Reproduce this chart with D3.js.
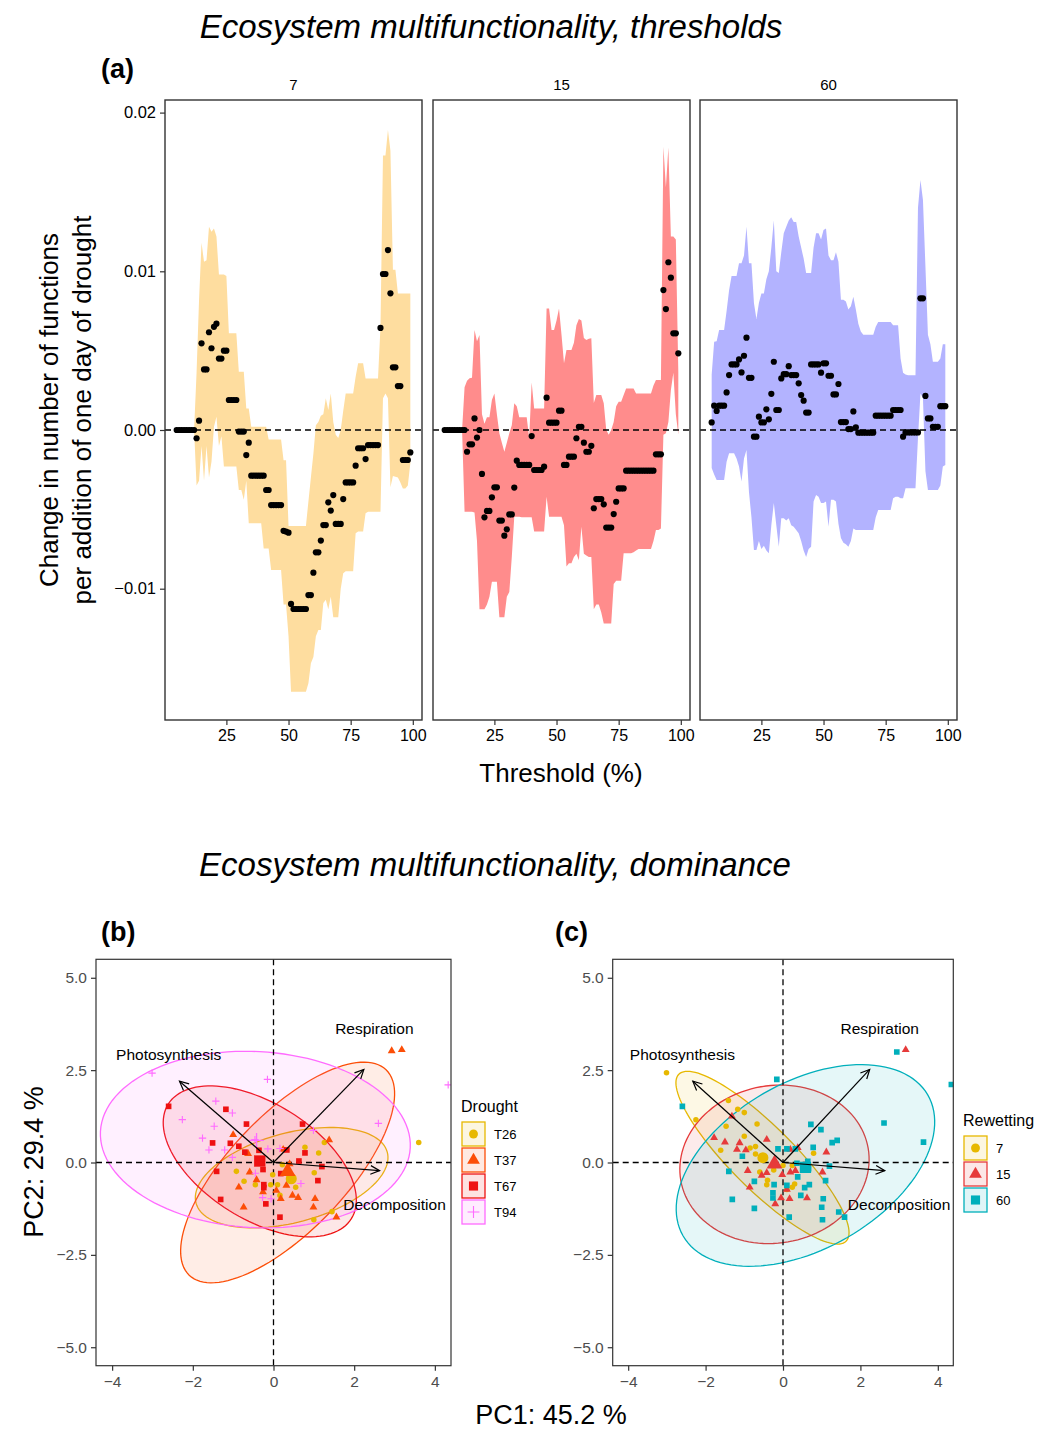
<!DOCTYPE html>
<html>
<head>
<meta charset="utf-8">
<style>
  body { margin: 0; background: #fff; }
  text { font-family: "Liberation Sans", Arial, Helvetica, sans-serif; }
</style>
</head>
<body>
<svg width="1038" height="1431"></svg>
<script src="https://d3js.org/d3.v7.min.js"></script>
<script>

  // ---------- (a) thresholds : values are slope x 1e-3 ----------
  var thresholds = d3.range(5, 100);
  var facetLabels = ["7", "15", "60"];

  var est7 = [0,0,0,0,0,0,0,0, -0.52,0.59,5.46,3.82,3.82,6.16,5.15,6.5,6.7,4.5,4.5,5.0,5.0,1.89,1.89,1.89,1.89,-0.1,-0.1,-0.1,-1.58,-0.8,
    -2.88,-2.88,-2.88,-2.88,-2.88,-2.88, -3.78,-3.78, -4.73,-4.73,-4.73,-4.73,-4.73, -6.35,-6.4,-6.47, -10.96,
    -11.28,-11.28,-11.28,-11.28,-11.28,-11.28, -10.4,-10.4, -8.99, -7.71,-7.71, -6.97, -5.99,-5.99, -4.56, -5.08, -4.1,
    -5.92,-5.92,-5.92, -4.35, -3.3,-3.3,-3.3,-3.3, -2.25, -1.15,-1.15,-1.15, -1.83, -0.95,-0.95,-0.95,-0.95,-0.95,
    6.43, 9.83,9.83, 11.34, 8.61, 3.95,3.95, 2.77,2.77, -1.89,-1.89,-1.89, -1.41];
  var hi7 = [0,0,0,0,0,0,0,0, 3.6,8.2,11.8,10.6,10.7,12.8,12.5,12.7,12.2,9.8,9.8,9.8,9.7,6.1,6.1,6.1,6.1,3.67,3.67,3.67,1.36,1.36,
    0.2,0.2,0.2,0.2,0.2,0.2,0.2, -0.6,-0.6,-0.6,-0.6,-0.6,-0.6, -1.9,-1.9, -6.05,-6.05,-6.05,-6.05,-6.05,-6.05,-6.05,-6.05,
    -4.5,-3.0,-1.5,0.3,0.5,0.9,1.0,2.0,1.26,2.3,0.5,-0.3,-0.5,0.0,1.2,2.3,2.3,2.3,2.3,3.36,4.2,4.2,4.2,
    3.25,3.25,3.25,3.25,3.25,3.25,6.5,17.3,17.3,18.9,17.6,10.1,10.1,8.6,8.6,8.6,8.6,8.6,8.6];
  var lo7 = [0,0,0,0,0,0,0,0, -3.5,-3.2,-1.0,-3.2,-1.0,-3.0,-2.0,0.2,0.84,-1.0,-0.4,-2.3,-2.3,-2.3,-2.3,-2.3,-2.3,-3.78,-3.78,-4.4,-3.2,-5.88,
    -5.88,-5.88,-5.88,-5.88,-5.88, -7.46,-7.46,-7.46, -8.82,-8.82,-8.82,-8.82,-8.82, -11.0,-11.0,-13.0,
    -16.5,-16.5,-16.5,-16.5,-16.5,-16.5,-16.5,
    -15.96,-14.7,-14.3,-13.0,-12.6,-12.6,-10.9,-10.7,-11.3,-10.5,-11.8,-11.8,-11.8,-10.0,-9.03,-8.9,-8.9,-8.9,-8.9,
    -6.5,-6.4,-6.4,-6.4,-5.25,-5.15,-5.15,-5.15,-5.15,-5.15,-5.15,2.0,2.3,2.0,-3.6,-2.9,-2.95,-3.0,-3.3,-3.68,-3.68,-3.5,-2.1];

  var est15 = [0,0,0,0,0,0,0,0,0, -1.37,-0.9,-0.9,0.73,-0.48,0,-2.77,-5.5,-5.1,-5.1,-4.24,-3.61,-3.61,-5.71,-5.71,-6.66,-6.26,-5.32,-5.32,-3.63,-1.93,
    -2.2,-2.2,-2.2,-2.2,-2.2, -0.38, -2.52,-2.52,-2.52,-2.52, -2.31, 2.04, 0.46,0.46,0.46,0.46, 1.22,1.22, -2.2,-2.2,
    -1.68,-1.68,-1.68, -0.52, 0.2,0.2, -0.8,-1.37,-1.37,-1.0, -4.93,-4.35,-4.35,-4.35,-4.68,-6.15,-6.15,-6.15,-5.3,-4.52,-3.68,-3.68,-3.68,
    -2.56,-2.56,-2.56,-2.56,-2.56,-2.56,-2.56,-2.56,-2.56,-2.56,-2.56,-2.56, -1.53,-1.53,-1.53,
    8.82,7.62,10.57,9.6,6.09,6.09,4.83];
  var hi15 = [0,0,0,0,0,0,0,0, 2.7,3.1,3.26,3.3,6.3,5.6,5.98,1.0,0.4,0.8,0.8,1.89,2.3,1.0,-0.2,-0.8,-1.37,-0.8,-0.2,0.3,1.68,1.5,
    0.8,0.8,0.8,0.8,-0.5,3.0,1.36,1.36,1.36,1.36,1.36,7.66,7.66,6.3,6.3,6.9,7.66,6.0,4.2,5.04,5.04,5.04,5.5,6.6,7.0,6.9,
    5.8,5.67,5.75,5.78,1.7,2.2,2.2,2.2,1.68,0.0,-0.3,0.0,0.5,1.5,1.78,1.78,2.2,2.62,2.62,2.62,2.62,
    2.3,2.3,2.3,2.3,2.3,2.3,2.3,2.8,3.15,3.15,3.15,17.85,15.3,17.8,12.2,12.2,12.0,3.67];
  var lo15 = [0,0,0,0,0,0,0,0, -5.15,-5.15,-5.15,-5.15,-5.2,-7.0,-11.3,-11.3,-11.3,-11.0,-10.5,-9.56,-9.56,-9.56,-11.8,-11.8,-11.8,-10.5,-10.2,-8.0,-5.46,-5.46,
    -5.46,-5.5,-5.5,-5.5,-5.5,-5.5,-6.4,-6.4,-6.4,-6.4,-6.4,-4.2,-5.46,-5.46,-5.46,-5.46,-5.46,-5.46,-6.0,-8.6,-8.4,-8.4,-8.0,-7.8,-8.2,-6.1,
    -7.8,-7.9,-8.0,-8.0,-11.3,-11.0,-11.0,-11.5,-12.2,-12.2,-12.2,-12.2,-9.7,-9.5,-9.5,-9.5,-7.77,-7.77,-7.77,-7.77,-7.7,
    -7.6,-7.5,-7.5,-7.5,-7.5,-7.5,-7.5,-7.0,-6.3,-6.3,-6.2,-0.3,-0.2,0.5,2.5,3.6,1.0,-0.3];

  var est60 = [0.48,1.53,1.2,1.53,1.53,1.53,2.37,3.46,4.13,4.13,4.13,4.45,3.63,4.68,5.82,3.29,3.29,-0.42,-0.42,0.84,0.48,0.48,1.3,0.67,2.28,4.3,
    1.26,1.26,3.25,3.52,3.52,4.02,3.46,3.46,3.46,2.94,2.2,1.85,1.1,1.1,4.13,4.13,4.13,4.13,3.61,4.2,4.2,3.42,3.42,2.24,2.24,2.9,
    0.5,0.5,0.5,0.06,0.06,1.17,0.17, -0.17,-0.17,-0.17,-0.17,-0.17,-0.17,-0.17, 0.9,0.9,0.9,0.9,0.9,0.9,0.9, 1.26,1.26,1.26,1.26,
    -0.42, -0.15,-0.15,-0.15,-0.15,-0.15,-0.15, 8.3,8.3,2.15,0.73,0.73,0.2,0.2,0.2,1.5,1.5,1.5];
  var hi60 = [3.5,5.56,5.6,6.3,6.3,6.3,7.5,8.8,9.7,9.7,9.7,10.5,10.5,11.0,12.8,10.5,10.5,8.0,7.0,8.0,8.6,8.6,9.5,10.0,11.5,13.2,
    10.0,9.9,11.2,12.4,12.8,13.2,13.4,13.1,13.1,12.2,11.5,10.8,9.9,9.9,9.9,11.5,12.4,12.4,12.0,12.6,12.7,11.0,10.7,10.7,11.2,10.6,
    8.2,8.2,8.1,7.6,7.8,8.4,7.6,6.7,6.2,6.0,6.0,6.0,6.0,6.0,6.5,6.8,6.8,6.8,6.8,6.8,6.8,6.6,6.6,6.6,4.5,3.6,3.5,3.45,3.45,3.45,3.45,
    14.0,15.75,14.5,10.3,6.0,5.4,4.3,4.3,4.3,4.5,5.4,5.4];
  var lo60 = [-2.4,-2.8,-3.15,-3.15,-3.15,-3.15,-2.0,-1.47,-1.47,-1.47,-1.8,-2.3,-3.25,-1.8,-1.26,-3.9,-5.5,-7.56,-7.56,-7.0,-7.5,-7.3,-7.6,-7.77,-6.0,-4.6,
    -6.0,-7.35,-5.56,-5.56,-5.7,-5.56,-6.0,-6.1,-6.3,-6.5,-7.0,-7.6,-8.0,-7.5,-7.35,-4.5,-4.1,-4.2,-4.6,-4.6,-4.5,-6.1,-4.4,-4.4,-4.5,-5.9,
    -6.8,-7.1,-7.2,-7.35,-7.0,-6.2,-6.3,-6.3,-6.3,-6.3,-6.3,-6.3,-6.3,-6.3,-5.5,-5.04,-5.04,-5.04,-5.04,-5.04,-5.04,-4.3,-4.2,-4.2,-4.3,-4.3,
    -3.67,-3.67,-3.67,-3.67,-3.67,-0.5,2.3,2.0,-2.6,-3.78,-3.78,-3.78,-3.78,-3.78,-3.5,-2.3,-2.2];

  // ---------- (b) / (c) PCA scores ----------
  var droughtLevels = ["T26", "T37", "T67", "T94"];
  var rewetLevels = ["7", "15", "60"];

  var ptsT26 = [[0.78,0.41],[1.12,0.26],[1.26,0.54],[-0.92,-0.24],[-0.73,-0.51],[-0.45,-0.6],[-0.02,-0.33],[-0.07,-0.6],[0.22,-0.06],
    [0.55,-0.67],[1.01,-0.28],[1.45,-1.33],[1.0,-1.55],[3.6,0.54],[0.16,-0.89],[0.1,-0.6]];
  var ptsT37 = [[-1.0,0.75],[-0.63,0.24],[-0.86,-0.67],[-0.74,-1.21],[-0.59,-0.26],[-0.42,-0.47],[-0.26,-0.8],[0.24,0.35],[0.4,-0.04],
    [0.07,-0.76],[0.18,-0.98],[0.32,-0.62],[0.47,-0.89],[0.61,-0.95],[1.03,-0.98],[0.99,-1.21],[1.38,0.61],[1.56,-1.48],[2.93,3.02],[3.18,3.05]];
  var ptsT67 = [[-2.6,1.52],[-1.18,1.44],[-0.67,1.04],[0.72,1.04],[-1.51,0.53],[-1.07,0.52],[-0.86,0.44],[-0.71,0.28],[-0.36,0.33],
    [-1.41,-0.24],[-0.26,-0.19],[-0.24,-0.6],[-0.24,-0.68],[-0.19,-1.12],[-1.31,-1.0],[0.16,-1.48],[0.63,0.04],[0.78,0.26],[1.2,-0.11],
    [1.1,-0.49],[0.18,-0.3],[0.33,0.34]];
  var ptsT94 = [[-3.01,2.42],[-0.15,2.25],[-1.43,1.66],[-1.02,1.34],[-2.26,1.16],[-1.47,0.98],[-1.76,0.66],[-1.6,0.34],[-1.21,0.34],
    [-1.02,0.14],[-0.46,0.62],[-0.45,-0.29],[-0.14,0.37],[0.16,0.38],[0.99,0.87],[2.6,1.06],[4.33,2.1],[0.68,-0.57],[-0.27,-0.95],[-0.06,-0.98]];

  var pts7 = [[-3.01,2.43],[-2.25,1.16],[-1.41,1.68],[-1.17,1.44],[-1.0,1.35],[-1.47,0.98],[-0.67,1.04],[-1.0,0.71],[-1.61,0.33],
    [-0.85,0.39],[-0.71,0.43],[-0.71,0.23],[-0.24,-0.2],[-0.6,-0.26],[-0.4,-0.48],[-0.42,-0.6],[0.0,-0.08],[0.24,-0.08],[0.79,0.25],
    [0.24,-0.67],[0.3,-0.58],[0.1,-0.73]];
  var pts15 = [[-1.78,0.67],[-1.5,0.55],[-1.12,0.53],[-1.19,0.35],[-0.96,0.34],[-0.42,0.62],[-1.32,1.25],[-0.91,-0.22],[-0.55,-0.35],
    [-0.42,-0.28],[-0.86,-0.67],[-0.02,-0.33],[0.19,-0.26],[0.32,-0.22],[0.38,0.4],[0.19,0.35],[1.12,0.28],[1.02,-0.26],[-0.2,-1.12],
    [-0.05,-0.96],[0.17,-0.98],[0.62,-0.96],[0.1,-0.73],[3.17,3.05]];
  var pts60 = [[-2.6,1.52],[-0.16,2.25],[-1.05,0.17],[-1.4,-0.24],[-1.31,-1.0],[-0.74,-0.51],[-0.74,-1.24],[-0.23,-0.6],[-0.26,-0.82],
    [-0.26,-0.96],[-0.13,0.37],[0.1,0.37],[0.32,0.37],[0.1,-0.62],[0.16,-1.48],[0.46,-0.89],[0.38,-0.39],[0.56,-0.68],[0.68,-0.6],
    [0.53,-0.14],[0.64,0.03],[0.66,-0.17],[0.78,0.41],[0.72,1.03],[0.98,0.89],[1.27,0.54],[1.4,0.6],[1.2,-0.1],[1.1,-0.49],[1.04,-0.98],
    [1.0,-1.21],[1.02,-1.55],[1.44,-1.34],[1.59,-1.48],[2.61,1.07],[3.63,0.55],[2.94,2.99],[4.35,2.11],[0.36,-0.02]];

  // group means (big symbols)
  var meansDrought = [[0.44,-0.44],[0.35,-0.24],[-0.34,0.04],[-0.42,0.6]];
  var meansRewet = [[-0.52,0.13],[-0.22,-0.04],[0.58,-0.13]];

  // concentration ellipses: centre c, conjugate semi-axes u and v (PC units)
  var ellDrought = [
    {c:[0.45,-0.41], u:[2.37,0.69], v:[0.29,-1.17]},
    {c:[0.35,-0.27], u:[2.44,2.78], v:[1.04,-1.09]},
    {c:[-0.34,0.03], u:[2.27,-1.55], v:[0.76,1.33]},
    {c:[-0.45,0.62], u:[3.84,-0.22], v:[-0.11,-2.38]}
  ];
  var ellRewet = [
    {c:[-0.53,0.13], u:[2.16,-2.26], v:[0.58,0.6]},
    {c:[-0.22,-0.05], u:[2.42,0.44], v:[0.35,-2.1]},
    {c:[0.58,-0.08], u:[3.16,1.91], v:[1.08,-1.95]}
  ];

  // variable loadings and label positions
  var loadNames = ["Photosynthesis", "Respiration", "Decomposition"];
  var loadXY = [[-2.33,2.2],[2.24,2.52],[2.63,-0.22]];
  var loadLabelXY = [[-2.6,2.92],[2.5,3.62],[3.0,-1.15]];

  // ---------- drawing ----------
  var svg = d3.select("svg");
  var font = "'Liberation Sans', Arial, Helvetica, sans-serif";

  // titles
  svg.append("text").attr("x", 491).attr("y", 38).attr("text-anchor", "middle")
      .style("font-style", "italic").style("font-size", "33px").text("Ecosystem multifunctionality, thresholds");
  svg.append("text").attr("x", 101).attr("y", 78).style("font-weight", "bold").style("font-size", "27px").text("(a)");

  var yA = d3.scaleLinear().domain([-0.018273, 0.020794]).range([720, 100]);
  var facetLeft = [165, 433, 700], facetW = 257;
  var ribbonFill = ["#FEDD9F", "#FF8C8C", "#B3B3FF"];
  var facetData = [
    {est: est7, lo: lo7, hi: hi7},
    {est: est15, lo: lo15, hi: hi15},
    {est: est60, lo: lo60, hi: hi60}
  ];

  facetData.forEach(function(f, i) {
    var x = d3.scaleLinear().domain([0.3, 103.7]).range([facetLeft[i], facetLeft[i] + facetW]);
    var rows = thresholds.map(function(t, j) {
      return {t: t, est: f.est[j] * 1e-3, lo: f.lo[j] * 1e-3, hi: f.hi[j] * 1e-3};
    });
    var g = svg.append("g");

    g.append("path").datum(rows)
        .attr("fill", ribbonFill[i])
        .attr("d", d3.area().x(function(d) { return x(d.t); })
          .y0(function(d) { return yA(d.lo); }).y1(function(d) { return yA(d.hi); }));

    g.append("line")
        .attr("x1", facetLeft[i]).attr("x2", facetLeft[i] + facetW)
        .attr("y1", yA(0)).attr("y2", yA(0))
        .attr("stroke", "#000").attr("stroke-width", 1.3).attr("stroke-dasharray", "6,4");

    g.selectAll("circle").data(rows).join("circle")
        .attr("cx", function(d) { return x(d.t); })
        .attr("cy", function(d) { return yA(d.est); })
        .attr("r", 3.1).attr("fill", "#000");

    g.append("rect").attr("x", facetLeft[i]).attr("y", 100).attr("width", facetW).attr("height", 620)
        .attr("fill", "none").attr("stroke", "#333").attr("stroke-width", 1.4);

    var ax = g.append("g").attr("transform", "translate(0,720)")
        .call(d3.axisBottom(x).tickValues([25, 50, 75, 100]).tickSize(5).tickPadding(5));
    ax.select(".domain").remove();
    ax.selectAll("line").attr("stroke", "#333").attr("stroke-width", 1.2);
    ax.selectAll("text").attr("fill", "#000").style("font-size", "16px").style("font-family", font);

    g.append("text").attr("x", facetLeft[i] + facetW / 2).attr("y", 90).attr("text-anchor", "middle")
        .style("font-size", "15px").text(facetLabels[i]);
  });

  var ay = svg.append("g").attr("transform", "translate(165,0)")
      .call(d3.axisLeft(yA).tickValues([-0.01, 0, 0.01, 0.02]).tickFormat(d3.format(".2f")).tickSize(5).tickPadding(4));
  ay.select(".domain").remove();
  ay.selectAll("line").attr("stroke", "#333").attr("stroke-width", 1.2);
  ay.selectAll("text").attr("fill", "#000").style("font-size", "16.5px").style("font-family", font);

  svg.append("text").attr("x", 561).attr("y", 782).attr("text-anchor", "middle")
      .style("font-size", "26px").text("Threshold (%)");
  var yt = svg.append("text").attr("transform", "translate(58,410) rotate(-90)").attr("text-anchor", "middle")
      .style("font-size", "26px");
  yt.append("tspan").attr("x", 0).attr("y", 0).text("Change in number of functions");
  yt.append("tspan").attr("x", 0).attr("y", 33).text("per addition of one day of drought");

  // ---------- (b) and (c) ----------
  svg.append("text").attr("x", 495).attr("y", 876).attr("text-anchor", "middle")
      .style("font-style", "italic").style("font-size", "33px").text("Ecosystem multifunctionality, dominance");

  function symbolPath(shape, size) {
    if (shape === "plus") {
      var s = Math.sqrt(size) * 0.75;
      return "M" + (-s) + ",0H" + s + "M0," + (-s) + "V" + s;
    }
    return d3.symbol().type(shape).size(size)();
  }

  function biplot(opt) {
    var x = d3.scaleLinear().domain([-4.4, 4.4]).range([opt.left, opt.right]);
    var y = d3.scaleLinear().domain([-5.5, 5.5]).range([1365.7, 959.3]);
    var g = svg.append("g");
    var clipId = "clip" + opt.tag;
    g.append("clipPath").attr("id", clipId).append("rect")
        .attr("x", opt.left).attr("y", 959.3).attr("width", opt.right - opt.left).attr("height", 406.4);
    var inner = g.append("g").attr("clip-path", "url(#" + clipId + ")");

    // ellipses
    opt.ellipses.forEach(function(e, k) {
      var ring = d3.range(0, 121).map(function(i) {
        var a = i / 120 * 2 * Math.PI;
        return [x(e.c[0] + e.u[0] * Math.cos(a) + e.v[0] * Math.sin(a)),
                y(e.c[1] + e.u[1] * Math.cos(a) + e.v[1] * Math.sin(a))];
      });
      inner.append("path").attr("d", d3.line()(ring) + "Z")
          .attr("fill", opt.colors[k]).attr("fill-opacity", 0.1)
          .attr("stroke", opt.colors[k]).attr("stroke-width", 1.3);
    });

    // reference lines
    inner.append("line").attr("x1", opt.left).attr("x2", opt.right).attr("y1", y(0)).attr("y2", y(0))
        .attr("stroke", "#000").attr("stroke-width", 1.3).attr("stroke-dasharray", "6,4");
    inner.append("line").attr("x1", x(0)).attr("x2", x(0)).attr("y1", 959.3).attr("y2", 1365.7)
        .attr("stroke", "#000").attr("stroke-width", 1.3).attr("stroke-dasharray", "6,4");

    // points
    opt.points.forEach(function(pts, k) {
      var isPlus = opt.shapes[k] === "plus";
      inner.append("g").selectAll("path").data(pts).join("path")
          .attr("transform", function(d) { return "translate(" + x(d[0]) + "," + y(d[1]) + ")"; })
          .attr("d", symbolPath(opt.shapes[k], opt.sizes[k]))
          .attr("fill", isPlus ? "none" : opt.colors[k])
          .attr("stroke", isPlus ? opt.colors[k] : "none").attr("stroke-width", 1.1);
    });
    // group means
    opt.means.forEach(function(m, k) {
      var isPlus = opt.shapes[k] === "plus";
      inner.append("path")
          .attr("transform", "translate(" + x(m[0]) + "," + y(m[1]) + ")")
          .attr("d", symbolPath(opt.shapes[k], opt.sizes[k] * 4))
          .attr("fill", isPlus ? "none" : opt.colors[k])
          .attr("stroke", isPlus ? opt.colors[k] : "none").attr("stroke-width", 1.3);
    });

    // loadings
    loadXY.forEach(function(p, k) {
      var x0 = x(0), y0 = y(0), x1 = x(p[0]), y1 = y(p[1]);
      var ang = Math.atan2(y1 - y0, x1 - x0), hl = 10, ha = Math.PI / 7;
      inner.append("line").attr("x1", x0).attr("y1", y0).attr("x2", x1).attr("y2", y1)
          .attr("stroke", "#000").attr("stroke-width", 1.2);
      inner.append("path")
          .attr("d", "M" + (x1 - hl * Math.cos(ang - ha)) + "," + (y1 - hl * Math.sin(ang - ha)) +
                     "L" + x1 + "," + y1 +
                     "L" + (x1 - hl * Math.cos(ang + ha)) + "," + (y1 - hl * Math.sin(ang + ha)))
          .attr("fill", "none").attr("stroke", "#000").attr("stroke-width", 1.2);
      inner.append("text").attr("x", x(loadLabelXY[k][0])).attr("y", y(loadLabelXY[k][1]))
          .attr("dy", "0.35em").attr("text-anchor", "middle").style("font-size", "15.5px").text(loadNames[k]);
    });

    g.append("rect").attr("x", opt.left).attr("y", 959.3).attr("width", opt.right - opt.left).attr("height", 406.4)
        .attr("fill", "none").attr("stroke", "#333").attr("stroke-width", 1.2);

    var axb = g.append("g").attr("transform", "translate(0,1365.7)")
        .call(d3.axisBottom(x).tickValues([-4, -2, 0, 2, 4]).tickFormat(d3.format("d")).tickSize(5).tickPadding(5));
    var axl = g.append("g").attr("transform", "translate(" + opt.left + ",0)")
        .call(d3.axisLeft(y).tickValues([-5, -2.5, 0, 2.5, 5]).tickFormat(d3.format(".1f")).tickSize(5).tickPadding(4));
    [axb, axl].forEach(function(a) {
      a.select(".domain").remove();
      a.selectAll("line").attr("stroke", "#333").attr("stroke-width", 1.2);
      a.selectAll("text").attr("fill", "#4D4D4D").style("font-size", "15.5px").style("font-family", font);
    });

    svg.append("text").attr("x", opt.tagX).attr("y", 941).style("font-weight", "bold")
        .style("font-size", "27px").text("(" + opt.tag + ")");

    // legend
    var lg = svg.append("g");
    lg.append("text").attr("x", opt.legX).attr("y", opt.legY).style("font-size", "16px").text(opt.legTitle);
    opt.levels.forEach(function(lv, k) {
      var ky = opt.legY + 10 + k * 26;
      lg.append("rect").attr("x", opt.legX + 1).attr("y", ky).attr("width", 23).attr("height", 24)
          .attr("fill", opt.colors[k]).attr("fill-opacity", 0.12)
          .attr("stroke", opt.colors[k]).attr("stroke-width", 1.3);
      var isPlus = opt.shapes[k] === "plus";
      lg.append("path").attr("transform", "translate(" + (opt.legX + 12.5) + "," + (ky + 12) + ")")
          .attr("d", symbolPath(opt.shapes[k], opt.sizes[k] * 2.6))
          .attr("fill", isPlus ? "none" : opt.colors[k])
          .attr("stroke", isPlus ? opt.colors[k] : "none").attr("stroke-width", 1.1);
      lg.append("text").attr("x", opt.legX + 33).attr("y", ky + 12).attr("dy", "0.35em")
          .style("font-size", "13px").text(lv);
    });
  }

  biplot({
    tag: "b", tagX: 101, left: 96, right: 451,
    levels: droughtLevels,
    colors: ["#E7B800", "#FC4E07", "#EE1111", "#FF6BFF"],
    shapes: [d3.symbolCircle, d3.symbolTriangle, d3.symbolSquare, "plus"],
    sizes: [24, 27, 32, 24],
    points: [ptsT26, ptsT37, ptsT67, ptsT94],
    means: meansDrought,
    ellipses: ellDrought,
    legTitle: "Drought", legX: 461, legY: 1112
  });

  biplot({
    tag: "c", tagX: 555, left: 612.7, right: 953.3,
    levels: rewetLevels,
    colors: ["#E7B800", "#E63A3A", "#00AFBB"],
    shapes: [d3.symbolCircle, d3.symbolTriangle, d3.symbolSquare],
    sizes: [24, 27, 32],
    points: [pts7, pts15, pts60],
    means: meansRewet,
    ellipses: ellRewet,
    legTitle: "Rewetting", legX: 963, legY: 1126
  });

  svg.append("text").attr("transform", "translate(43,1162) rotate(-90)").attr("text-anchor", "middle")
      .style("font-size", "27px").text("PC2: 29.4 %");
  svg.append("text").attr("x", 551).attr("y", 1424).attr("text-anchor", "middle")
      .style("font-size", "27px").text("PC1: 45.2 %");

</script>
</body>
</html>
